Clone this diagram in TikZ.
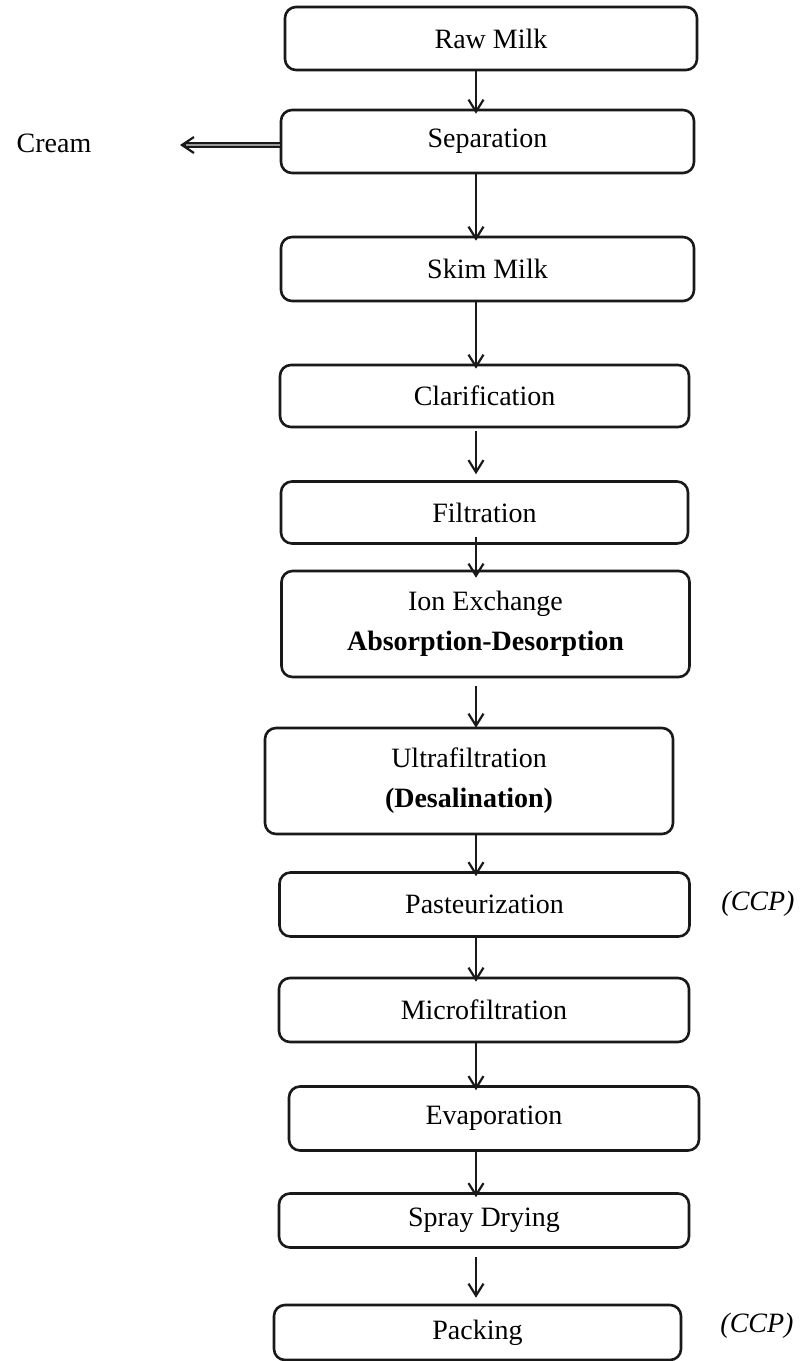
\documentclass[tikz,border=0pt]{standalone}
\usepackage{fontspec}
\setmainfont{Liberation Serif}
\usetikzlibrary{arrows.meta}
\begin{document}
\begin{tikzpicture}[x=1pt,y=-1pt,
  stepbox/.style={draw=black!90,line width=2.6pt,rounded corners=11pt,align=center,
    inner sep=0pt,font=\fontsize{28}{40}\selectfont},
  flow/.style={draw=black!90,line width=2.2pt,-{Straight Barb[length=12pt,width=15pt,line width=2.2pt]},shorten >=-5pt},
  lbl/.style={font=\fontsize{28}{32}\selectfont,inner sep=0pt}]
\useasboundingbox (0,0) rectangle (803,1361);
\fill[white] (0,0) rectangle (803,1361);

\node[stepbox,minimum width=412pt,minimum height=63pt] (raw) at (491,38.5) {Raw Milk};
\node[stepbox,minimum width=413pt,minimum height=63pt] (sep) at (487.5,141.5) {Separation};
\node[stepbox,minimum width=413pt,minimum height=64pt] (skim) at (487.5,269) {Skim Milk};
\node[stepbox,minimum width=409pt,minimum height=62pt] (clar) at (484.5,396) {Clarification};
\node[stepbox,minimum width=407pt,minimum height=62pt] (filt) at (484.5,512.5) {Filtration};
\node[stepbox,minimum width=408pt,minimum height=106pt] (ion) at (485.5,624) {Ion Exchange\\\textbf{Absorption-Desorption}};
\node[stepbox,minimum width=408pt,minimum height=106pt] (ultra) at (469,781) {Ultrafiltration\\\textbf{(Desalination)}};
\node[stepbox,minimum width=410pt,minimum height=64pt] (past) at (484.5,904.5) {Pasteurization};
\node[stepbox,minimum width=410pt,minimum height=64pt] (micro) at (484,1010) {Microfiltration};
\node[stepbox,minimum width=410pt,minimum height=64pt] (evap) at (494,1118.5) {Evaporation};
\node[stepbox,minimum width=410pt,minimum height=54pt] (spray) at (484,1220.5) {Spray Drying};
\node[stepbox,minimum width=407pt,minimum height=55pt] (pack) at (477.5,1332.5) {Packing};

\node[lbl] (cream) at (54,143) {Cream};
\node[lbl] (ccp1) at (758,904) {\itshape (CCP)};
\node[lbl] (ccp2) at (757,1326) {\itshape (CCP)};

\coordinate (ax) at (476,0);
\coordinate (creamtip) at (180,145);
\coordinate (creamneck) at (186,145);

\draw[draw=black!90,double=black!40,double distance=2pt,line width=1.8pt] (sep.west |- creamtip) -- (creamneck);
\draw[draw=black!90,line width=2.2pt,-{Straight Barb[length=12pt,width=16pt,line width=2.2pt]}] (creamneck) -- (creamtip);

\draw[flow] (raw.south -| ax) -- (sep.north -| ax);
\draw[flow] (sep.south -| ax) -- (skim.north -| ax);
\draw[flow] (skim.south -| ax) -- (clar.north -| ax);
\draw[flow,shorten <=3pt,shorten >=6pt] (clar.south -| ax) -- (filt.north -| ax);
\draw[flow,shorten <=-8pt,shorten >=-8pt] (filt.south -| ax) -- (ion.north -| ax);
\draw[flow,shorten <=8pt,shorten >=-1pt] (ion.south -| ax) -- (ultra.north -| ax);
\draw[flow] (ultra.south -| ax) -- (past.north -| ax);
\draw[flow] (past.south -| ax) -- (micro.north -| ax);
\draw[flow] (micro.south -| ax) -- (evap.north -| ax);
\draw[flow] (evap.south -| ax) -- (spray.north -| ax);
\draw[flow,shorten <=8pt,shorten >=6pt] (spray.south -| ax) -- (pack.north -| ax);
\end{tikzpicture}
\end{document}
